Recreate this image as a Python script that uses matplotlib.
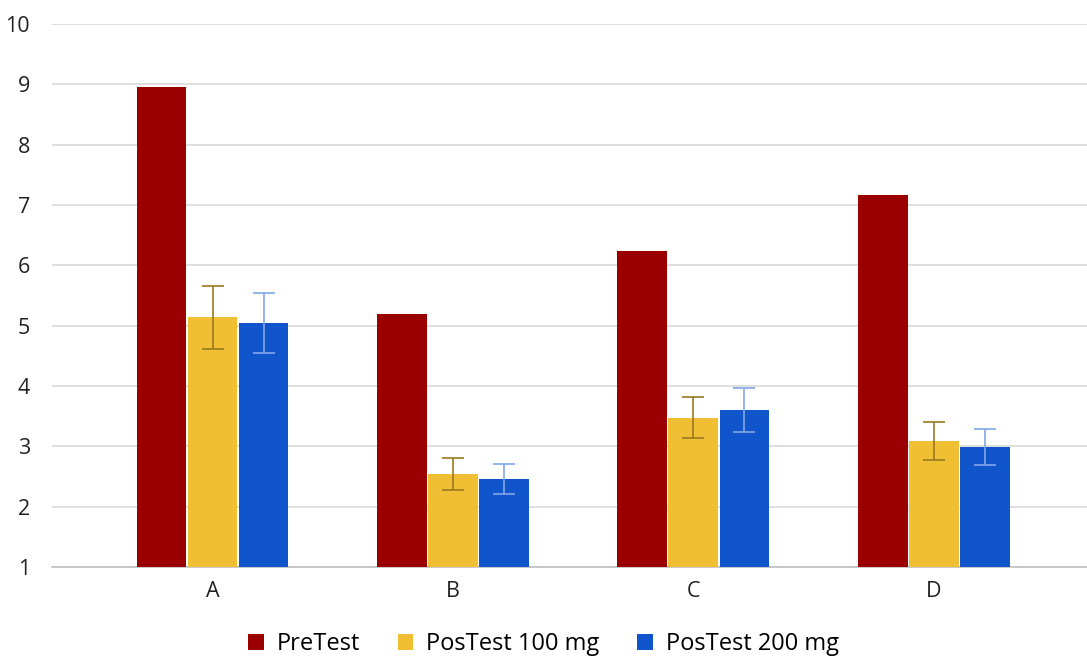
import matplotlib.pyplot as plt
import numpy as np

categories = ['A', 'B', 'C', 'D']
pretest = [8.96, 5.19, 6.24, 7.17]
pos100 = [5.14, 2.54, 3.47, 3.09]
pos100_err = [0.52, 0.27, 0.34, 0.31]
pos200 = [5.04, 2.46, 3.60, 2.99]
pos200_err = [0.50, 0.25, 0.36, 0.30]

plt.rcParams['font.family'] = ['Open Sans', 'DejaVu Sans']

fig = plt.figure(figsize=(10.87, 6.59), dpi=100)
ax = fig.add_axes([0.048, 0.1396, 0.952, 0.824])

x = np.arange(len(categories))
step = 0.2125
w = 0.207
ax.bar(x - step, pretest, width=w, color='#9B0000', label='PreTest', zorder=3)
ax.bar(x, pos100, width=w, color='#F0BF33', label='PosTest 100 mg', zorder=3,
       yerr=pos100_err, error_kw=dict(ecolor='#9A7A20', elinewidth=1.2, capsize=8, capthick=1.2, zorder=4))
ax.bar(x + step, pos200, width=w, color='#1155CC', label='PosTest 200 mg', zorder=3,
       yerr=pos200_err, error_kw=dict(ecolor='#82A8E8', elinewidth=1.2, capsize=8, capthick=1.2, zorder=4))

ax.set_ylim(1, 10)
ax.set_yticks(range(1, 11))
ax.set_xlim(-0.667, 3.6375)
ax.set_xticks(x)
ax.set_xticklabels(categories)
ax.yaxis.grid(True, color='#D9D9D9', linewidth=1.2, zorder=0)
ax.set_axisbelow(True)
for s in ['top', 'right', 'left']:
    ax.spines[s].set_visible(False)
ax.spines['bottom'].set_color('#BFBFBF')
ax.spines['bottom'].set_linewidth(1.2)
ax.tick_params(axis='both', length=0, labelsize=15.5, colors='#222222', pad=10)
ax.tick_params(axis='y', pad=16)

fig.legend(loc='lower center', bbox_to_anchor=(0.5, -0.028), ncol=3, frameon=False,
           fontsize=17, handlelength=0.65, handleheight=0.65, handletextpad=0.55, columnspacing=1.6)

fig.savefig('out.png', dpi=100)
